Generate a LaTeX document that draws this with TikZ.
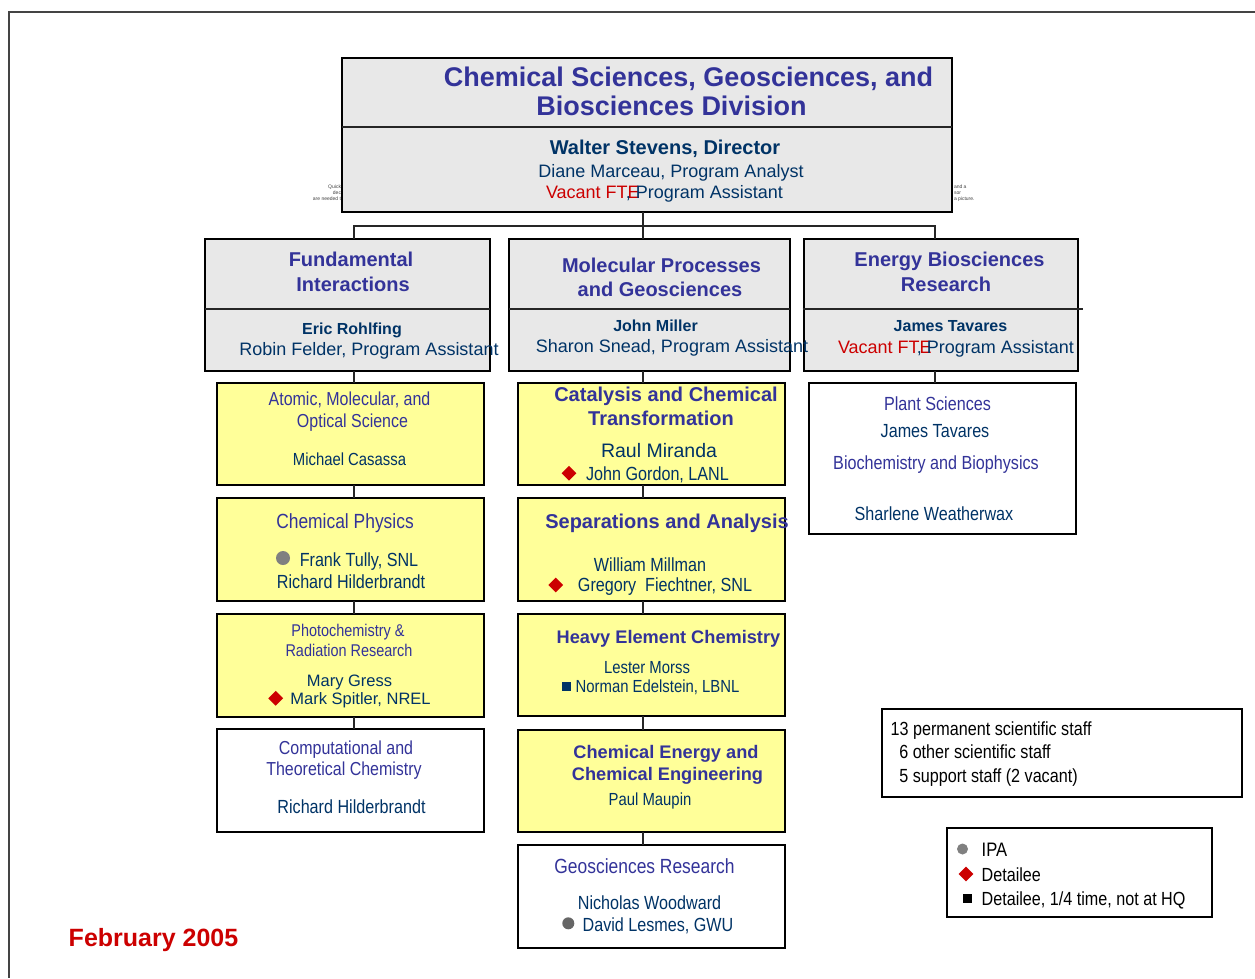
\documentclass[tikz,border=0pt]{standalone}
\usepackage{fontspec}
\setmainfont{Liberation Sans}
\newfontfamily\narrowf[FakeStretch=0.85]{Liberation Sans}
\usetikzlibrary{shapes.geometric}
\definecolor{tblue}{HTML}{333399}
\definecolor{nblue}{HTML}{003366}
\definecolor{dred}{HTML}{CC0000}
\definecolor{gfill}{HTML}{E8E8E8}
\definecolor{yfill}{HTML}{FFFF99}
\definecolor{frame}{HTML}{444444}
\newcommand{\myfs}[1]{\fontsize{#1}{#1}\selectfont}
\begin{document}
\begin{tikzpicture}[x=1pt,y=-1pt,
  box/.style={draw=black, line width=2pt, anchor=north west, inner sep=0pt, outer sep=0pt},
  gbox/.style={box, fill=gfill},
  ybox/.style={box, fill=yfill, minimum width=267, minimum height=102.5},
  wbox/.style={box, fill=white, minimum width=267, minimum height=102.5},
  conn/.style={draw=black!85, line width=2pt},
  divl/.style={draw=black!85, line width=2pt},
  lbl/.style={inner sep=0pt, outer sep=0pt, anchor=base},
  ttl/.style={lbl, text=tblue, font=\myfs{20}\bfseries},
  mgr/.style={lbl, text=nblue, font=\myfs{16}\bfseries},
  reg/.style={lbl, text=nblue, font=\myfs{18}},
  nar/.style={lbl, text=nblue, font=\narrowf\myfs{19}},
  nart/.style={lbl, text=tblue, font=\narrowf\myfs{19}},
  tiny/.style={inner sep=0pt, outer sep=0pt, text=black!75, font=\myfs{5}},
  dia/.style={diamond, fill=dred, inner sep=0pt, minimum width=15, minimum height=15},
  dot/.style={circle, fill=black!50, inner sep=0pt, minimum size=11},
  sq/.style={rectangle, inner sep=0pt, minimum size=9}
]
\useasboundingbox (0,0) rectangle (1255,978);
% page frame
\coordinate (frTL) at (9.3,11.7);
\coordinate (frTR) at (1255,11.7);
\coordinate (frBL) at (9.3,978);
\draw[draw=frame, line width=2pt] (frTR) -- (frTL) -- (frBL);

% tiny leftover text
\node[tiny, anchor=base east] (q1) at (341,188) {Quick};
\node[tiny, anchor=base east] (q2) at (341,194) {dec};
\node[tiny, anchor=base east] (q3) at (341,200) {are needed t};
\node[tiny, anchor=base west] (q4) at (954,188) {and a};
\node[tiny, anchor=base west] (q5) at (954,194) {sor};
\node[tiny, anchor=base west] (q6) at (954,200) {a picture.};

% connector coordinates
\coordinate (cL) at (354,226);
\coordinate (cM) at (643,226);
\coordinate (cR) at (935,226);

% boxes
\node[gbox, minimum width=610, minimum height=154] (top) at (342,58) {};
\node[gbox, minimum width=285, minimum height=131.5] (fi) at (205,239.3) {};
\node[gbox, minimum width=281, minimum height=131.5] (mpg) at (509,239.3) {};
\node[gbox, minimum width=274, minimum height=131.5] (ebr) at (804.3,239.3) {};

\node[ybox] (l1) at (217.3,382.7) {};
\node[ybox] (l2) at (217.3,498) {};
\node[ybox] (l3) at (217.3,614) {};
\node[wbox] (l4) at (217.3,729.3) {};

\node[ybox] (m1) at (517.7,382.7) {};
\node[ybox] (m2) at (517.7,498.3) {};
\node[ybox] (m3) at (517.7,613.6) {};
\node[ybox] (m4) at (517.7,729.5) {};
\node[wbox] (m5) at (517.7,845) {};

\node[box, fill=white, minimum width=266.7, minimum height=151.3] (r1) at (809,382.7) {};

\node[box, fill=white, minimum width=360, minimum height=87.7] (stats) at (882.3,709) {};
\node[box, fill=white, minimum width=264.4, minimum height=89] (legend) at (947.3,828.3) {};

% connectors
\draw[conn] (top.south -| cM) -- (cM);
\draw[conn] (fi.north -| cL) -- (cL) -- (cR) -- (ebr.north -| cR);
\draw[conn] (cM) -- (mpg.north -| cM);
\draw[conn] (fi.south -| cL) -- (l1.north -| cL);
\draw[conn] (l1.south -| cL) -- (l2.north -| cL);
\draw[conn] (l2.south -| cL) -- (l3.north -| cL);
\draw[conn] (l3.south -| cL) -- (l4.north -| cL);
\draw[conn] (mpg.south -| cM) -- (m1.north -| cM);
\draw[conn] (m1.south -| cM) -- (m2.north -| cM);
\draw[conn] (m2.south -| cM) -- (m3.north -| cM);
\draw[conn] (m3.south -| cM) -- (m4.north -| cM);
\draw[conn] (m4.south -| cM) -- (m5.north -| cM);
\draw[conn] (ebr.south -| cR) -- (r1.north -| cR);

% dividers
\draw[divl] (top.north west) ++(0,69) -- ++(610,0);
\draw[divl] (fi.north west) ++(0,69.4) -- ++(285,0);
\draw[divl] (mpg.north west) ++(0,69.4) -- ++(281,0);
\draw[divl] (ebr.north west) ++(-1.6,69.7) -- ++(280,0);

% top box text
\node[ttl, font=\myfs{27}\bfseries] (t1) at (688.5,86) {Chemical Sciences, Geosciences, and};
\node[ttl, font=\myfs{27}\bfseries] (t2) at (671.5,115.7) {Biosciences Division};
\node[mgr, font=\myfs{20}\bfseries] (t3) at (665,154) {Walter Stevens, Director};
\node[reg] (t4) at (671,177.3) {Diane Marceau, Program Analyst};
\node[reg, text=dred, anchor=base west] (t5) at (546,198.3) {Vacant FTE};
\node[reg, anchor=base east] (t6) at (783,198.3) {, Program Assistant};

% Fundamental Interactions
\node[ttl] (fi1) at (351,266.7) {Fundamental};
\node[ttl] (fi2) at (353,291.7) {Interactions};
\node[mgr] (fi3) at (352,334) {Eric Rohlfing};
\node[reg] (fi4) at (369,355) {Robin Felder, Program Assistant};

% Molecular Processes
\node[ttl] (mp1) at (661.5,272) {Molecular Processes};
\node[ttl] (mp2) at (660,296) {and Geosciences};
\node[mgr] (mp3) at (655.5,331.5) {John Miller};
\node[reg] (mp4) at (672,352.5) {Sharon Snead, Program Assistant};

% Energy Biosciences
\node[ttl] (eb1) at (949.5,266.7) {Energy Biosciences};
\node[ttl] (eb2) at (946,291.7) {Research};
\node[mgr] (eb3) at (950.5,331.7) {James Tavares};
\node[reg, text=dred, anchor=base west] (eb4) at (838,353.3) {Vacant FTE};
\node[reg, anchor=base east] (eb5) at (1074,353.3) {, Program Assistant};

% left column
\node[nart, font=\narrowf\myfs{18.8}] (a1) at (349.5,405) {Atomic, Molecular, and};
\node[nart, font=\narrowf\myfs{18.8}] (a2) at (352.5,427) {Optical Science};
\node[nar, font=\narrowf\myfs{17.5}] (a3) at (349.5,465) {Michael Casassa};

\node[nart, font=\narrowf\myfs{20.5}] (b1) at (345,528) {Chemical Physics};
\node[dot, minimum size=14] (b2) at (283,558) {};
\node[nar] (b3) at (359,566.5) {Frank Tully, SNL};
\node[nar] (b4) at (351,588.5) {Richard Hilderbrandt};

\node[nart, font=\narrowf\myfs{17}] (c1) at (348,636.7) {Photochemistry \&};
\node[nart, font=\narrowf\myfs{17}] (c2) at (349,656) {Radiation Research};
\node[lbl, text=nblue, font=\myfs{16.5}] (c3) at (349.5,686) {Mary Gress};
\node[dia] (c4) at (275.7,698.3) {};
\node[lbl, text=nblue, font=\myfs{16.5}] (c5) at (360.5,704) {Mark Spitler, NREL};

\node[nart, font=\narrowf\myfs{18.8}] (d1) at (346,754) {Computational and};
\node[nart, font=\narrowf\myfs{18.8}] (d2) at (344,775.7) {Theoretical Chemistry};
\node[nar] (d3) at (351.5,813.3) {Richard Hilderbrandt};

% middle column
\node[ttl] (e1) at (666,401.7) {Catalysis and Chemical};
\node[ttl] (e2) at (661,425.7) {Transformation};
\node[lbl, text=nblue, font=\myfs{19.5}] (e3) at (659,457.7) {Raul Miranda};
\node[dia] (e4) at (569,473.3) {};
\node[nar] (e5) at (657.5,480) {John Gordon, LANL};

\node[ttl] (f1) at (667,528.3) {Separations and Analysis};
\node[nar] (f2) at (650,571) {William Millman};
\node[dia] (f3) at (555.7,585) {};
\node[nar] (f4) at (665,591.7) {Gregory\ \ Fiechtner, SNL};

\node[ttl, font=\myfs{18.2}\bfseries] (g1) at (668.5,643.3) {Heavy Element Chemistry};
\node[nar, font=\narrowf\myfs{17.5}] (g2) at (647,673.3) {Lester Morss};
\node[sq, fill=nblue] (g3) at (566,686.5) {};
\node[nar, font=\narrowf\myfs{17.5}] (g4) at (657.5,692.3) {Norman Edelstein, LBNL};

\node[ttl, font=\myfs{18.2}\bfseries] (h1) at (666,758.3) {Chemical Energy and};
\node[ttl, font=\myfs{18.2}\bfseries] (h2) at (667.5,780.7) {Chemical Engineering};
\node[nar, font=\narrowf\myfs{17.5}] (h3) at (650,805) {Paul Maupin};

\node[nart, font=\narrowf\myfs{20.5}] (k1) at (644.5,873.3) {Geosciences Research};
\node[nar] (k2) at (649.5,909) {Nicholas Woodward};
\node[dot, fill=black!60, minimum size=12] (k3) at (568.3,923.3) {};
\node[nar] (k4) at (658,931) {David Lesmes, GWU};

% right column
\node[nart] (p1) at (937.5,410) {Plant Sciences};
\node[nar] (p2) at (935,437.3) {James Tavares};
\node[nart] (p3) at (936,469) {Biochemistry and Biophysics};
\node[nar] (p4) at (934,520) {Sharlene Weatherwax};

% stats
\node[nar, text=black, anchor=base west] (s1) at (890.7,735) {13 permanent scientific staff};
\node[nar, text=black, anchor=base west] (s2) at (899.3,758.3) {6 other scientific staff};
\node[nar, text=black, anchor=base west] (s3) at (899.3,782) {5 support staff (2 vacant)};

% legend
\node[dot, minimum size=11] (lg1) at (962.5,849) {};
\node[nar, text=black, font=\narrowf\myfs{19.5}, anchor=base west] (lg2) at (981.7,856) {IPA};
\node[dia] (lg3) at (966,874) {};
\node[nar, text=black, anchor=base west] (lg4) at (981.7,881) {Detailee};
\node[sq, fill=black] (lg5) at (967,898.5) {};
\node[nar, text=black, anchor=base west] (lg6) at (981.7,905) {Detailee, 1/4 time, not at HQ};

% date
\node[lbl, text=dred, font=\myfs{25}\bfseries] (date) at (153.5,946.7) {February 2005};
\end{tikzpicture}
\end{document}
